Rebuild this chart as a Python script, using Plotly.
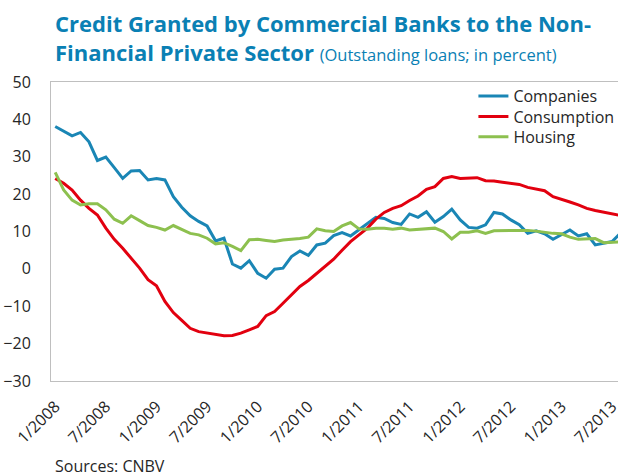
import plotly.graph_objects as go

# Monthly observations, January 2008 to August 2013
months = [f"{m}/{y}" for y in range(2008, 2014) for m in range(1, 13)][:68]

tick_labels = ["1/2008", "7/2008", "1/2009", "7/2009", "1/2010", "7/2010",
               "1/2011", "7/2011", "1/2012", "7/2012", "1/2013", "7/2013"]

companies = [38.1, 36.9, 35.6, 36.5, 34.0, 29.0, 29.9, 27.1, 24.2, 26.2, 26.3, 23.8,
             24.2, 23.8, 19.3, 16.5, 14.2, 12.7, 11.5, 7.5, 8.2, 1.3, 0.2, 2.2,
             -1.2, -2.5, -0.1, 0.2, 3.3, 4.8, 3.6, 6.4, 6.9, 8.9, 9.7, 8.8,
             10.4, 12.2, 13.8, 13.5, 12.4, 11.9, 14.7, 13.8, 15.3, 12.5, 14.0, 16.0,
             13.1, 11.1, 10.9, 11.8, 15.1, 14.7, 13.1, 11.8, 9.5, 10.2, 9.4, 7.9,
             9.1, 10.4, 8.8, 9.4, 6.4, 6.9, 7.3, 9.6]

consumption = [24.2, 22.9, 21.1, 18.4, 16.2, 14.4, 10.9, 7.9, 5.5, 2.9, 0.2, -2.9,
               -4.5, -8.7, -11.7, -13.8, -15.9, -16.8, -17.1, -17.4, -17.9, -17.8, -17.2, -16.3,
               -15.4, -12.5, -11.4, -9.2, -7.0, -4.7, -3.1, -1.2, 0.8, 2.6, 5.0, 7.3,
               9.1, 10.9, 13.3, 15.1, 16.2, 16.9, 18.3, 19.5, 21.3, 22.0, 24.2, 24.7,
               24.2, 24.4, 24.4, 23.6, 23.5, 23.2, 22.9, 22.6, 21.8, 21.4, 20.9, 19.3,
               18.7, 17.9, 17.1, 16.2, 15.6, 15.2, 14.8, 14.3]

housing = [25.8, 21.1, 18.4, 17.1, 17.4, 17.4, 15.8, 13.3, 12.2, 14.2, 12.9, 11.6,
           11.1, 10.4, 11.6, 10.6, 9.5, 9.1, 8.2, 6.7, 7.0, 6.0, 4.9, 7.8,
           7.9, 7.6, 7.3, 7.7, 7.8, 8.1, 8.5, 10.7, 10.2, 10.0, 11.5, 12.4,
           10.7, 10.6, 10.9, 10.9, 10.6, 10.9, 10.4, 10.6, 10.9, 10.9, 10.0, 8.0,
           9.8, 9.8, 10.2, 9.5, 10.2, 10.2, 10.4, 10.4, 10.3, 10.1, 9.7, 9.5,
           9.4, 8.5, 7.9, 8.0, 8.1, 7.0, 7.0, 7.2]

series = [
    ("Companies", companies, "#1A86B5", "legend"),
    ("Consumption", consumption, "#E2000F", "legend2"),
    ("Housing", housing, "#8DC04F", "legend3"),
]

FONT = "Open Sans"
TEXT = "#262626"
AXIS = "#BFBFBF"

fig = go.Figure()
for name, values, color, leg in series:
    fig.add_trace(go.Scatter(
        x=months, y=values, name=name, mode="lines",
        line=dict(color=color, width=3), legend=leg,
    ))


def legend_box(top):
    # one legend per series so the rows sit tightly together
    return dict(
        x=0.745, y=top, xanchor="left", yanchor="top",
        bgcolor="rgba(0,0,0,0)", font=dict(family=FONT, size=16, color=TEXT),
        itemwidth=30,
    )


fig.update_layout(
    width=621, height=476,
    margin=dict(l=51, r=0, t=82, b=95),
    paper_bgcolor="white", plot_bgcolor="white",
    font=dict(family=FONT, size=16, color=TEXT),
    showlegend=True,
    legend=legend_box(1.010),
    legend2=legend_box(0.9415),
    legend3=legend_box(0.873),
    title=dict(
        text="<b>Credit Granted by Commercial Banks to the Non-<br>Financial Private Sector</b>"
             " <span style='font-size:16.5px'>(Outstanding loans; in percent)</span>",
        font=dict(family=FONT, size=22, color="#0A80B4"),
        xref="container", yref="container",
        x=55 / 621, xanchor="left",
        y=1 - 32 / 476, yanchor="top",
    ),
    xaxis=dict(
        type="category", categoryorder="array", categoryarray=months,
        range=[-0.5, 66.7],
        tickmode="array", tickvals=tick_labels, ticktext=tick_labels,
        tickangle=-45, ticks="", showgrid=False,
        showline=True, linecolor=AXIS, linewidth=1, mirror=True,
        tickfont=dict(size=16, color=TEXT),
        ticklabelstandoff=9,
    ),
    # zero line with boundary tick marks every six months
    xaxis2=dict(
        overlaying="x", anchor="free", position=0.375,
        range=[-0.5, 66.7], tick0=-0.5, dtick=6,
        ticks="inside", ticklen=6, tickwidth=1, tickcolor="#A6A6A6",
        showticklabels=False, showgrid=False, zeroline=False,
        showline=True, linecolor="#A6A6A6", linewidth=1,
        layer="below traces",
    ),
    yaxis=dict(
        range=[-30, 50], dtick=10, showgrid=False, zeroline=False,
        showline=True, linecolor=AXIS, linewidth=1,
        ticks="", tickfont=dict(size=16, color=TEXT),
        ticklabelstandoff=16,
    ),
)

fig.add_annotation(
    text="Sources: CNBV", xref="paper", yref="paper",
    x=0.004, y=-0.285, xanchor="left", yanchor="middle",
    showarrow=False, font=dict(family=FONT, size=16, color=TEXT),
)

fig.write_html("out.html")
